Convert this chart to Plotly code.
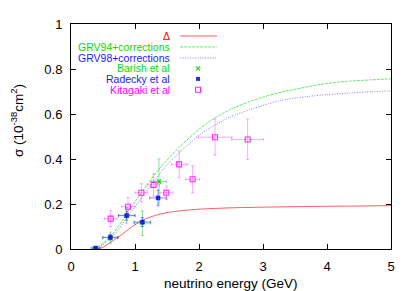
import plotly.graph_objects as go

# Curves
delta_x = [0.42, 0.5, 0.6, 0.7, 0.8, 0.9, 1.0, 1.1, 1.2, 1.35, 1.5, 1.75, 2.0, 2.5, 3.0, 3.5, 4.0, 4.5, 5.0]
delta_y = [0.0, 0.008, 0.026, 0.045, 0.066, 0.088, 0.108, 0.125, 0.138, 0.152, 0.162, 0.171, 0.177, 0.183, 0.186, 0.188, 0.19, 0.191, 0.193]

grv94_x = [0.36, 0.5, 0.64, 0.8, 0.9, 1.0, 1.2, 1.375, 1.5, 1.7, 2.0, 2.25, 2.5, 2.8, 3.0, 3.3, 3.5, 3.85, 4.0, 4.35, 4.7, 5.0]
grv94_y = [0.0, 0.025, 0.062, 0.125, 0.168, 0.21, 0.29, 0.355, 0.395, 0.455, 0.532, 0.583, 0.622, 0.656, 0.675, 0.698, 0.71, 0.729, 0.736, 0.746, 0.752, 0.756]

grv98_x = [0.40, 0.55, 0.69, 0.85, 0.95, 1.08, 1.2, 1.39, 1.55, 1.75, 2.0, 2.25, 2.5, 2.8, 3.0, 3.3, 3.7, 4.0, 4.35, 4.7, 5.0]
grv98_y = [0.0, 0.03, 0.068, 0.13, 0.168, 0.22, 0.265, 0.335, 0.388, 0.443, 0.505, 0.551, 0.588, 0.62, 0.638, 0.662, 0.678, 0.686, 0.693, 0.699, 0.703]

# Data points
barish_x = [0.385, 0.615, 0.87, 1.115, 1.375]
barish_y = [0.004, 0.05, 0.15, 0.115, 0.30]
barish_xerr = [0.05, 0.12, 0.13, 0.13, 0.12]
barish_yerr = [0.006, 0.025, 0.035, 0.055, 0.10]

radecky_x = [0.385, 0.615, 0.87, 1.115, 1.36]
radecky_y = [0.004, 0.052, 0.148, 0.12, 0.227]
radecky_xerr = [0.07, 0.12, 0.13, 0.13, 0.13]
radecky_yerr = [0.005, 0.012, 0.02, 0.02, 0.035]

kitagaki_x = [0.62, 0.89, 1.10, 1.29, 1.49, 1.69, 1.90, 2.25, 2.76]
kitagaki_y = [0.135, 0.188, 0.25, 0.285, 0.25, 0.376, 0.31, 0.497, 0.487]
kitagaki_xerr = [0.1, 0.1, 0.1, 0.09, 0.1, 0.12, 0.11, 0.265, 0.25]
kitagaki_yerr = [0.035, 0.04, 0.04, 0.05, 0.03, 0.06, 0.06, 0.08, 0.09]

x_ticks = [0, 1, 2, 3, 4, 5]
y_ticks = [0, 0.2, 0.4, 0.6, 0.8, 1]
y_tick_labels = ["0", "0.2", "0.4", "0.6", "0.8", "1"]

legend_names = ["Δ", "GRV94+corrections", "GRV98+corrections", "Barish et al", "Radecky et al", "Kitagaki et al"]
legend_text_colors = ["#ff0000", "#00e000", "#1a1aff", "#00e000", "#1a1aff", "#ff00ff"]

RED = "rgba(255,40,40,0.75)"
GREEN = "rgba(0,220,0,0.6)"
BLUE = "rgba(40,40,255,0.6)"
MAG = "rgba(255,0,255,0.85)"
GREEN_E = "rgba(0,200,0,0.45)"
BLUE_E = "rgba(0,0,255,0.45)"
MAG_E = "rgba(255,0,255,0.35)"
GREEN_M = "rgba(0,210,0,0.9)"
BLUE_M = "rgba(20,20,230,0.9)"

fig = go.Figure()

fig.add_trace(go.Scatter(x=delta_x, y=delta_y, mode="lines", line=dict(color=RED, width=1, shape="spline", smoothing=0.6), showlegend=False))
fig.add_trace(go.Scatter(x=grv94_x, y=grv94_y, mode="lines", line=dict(color=GREEN, width=1, dash="3px,1px", shape="spline", smoothing=0.6), showlegend=False))
fig.add_trace(go.Scatter(x=grv98_x, y=grv98_y, mode="lines", line=dict(color=BLUE, width=1, dash="1px,1.5px", shape="spline", smoothing=0.6), showlegend=False))

fig.add_trace(go.Scatter(
    x=barish_x, y=barish_y, mode="markers",
    marker=dict(symbol="x-thin-open", size=4, color=GREEN_M, line=dict(color=GREEN_M, width=1.2)),
    error_x=dict(type="data", array=barish_xerr, color=GREEN_E, thickness=1, width=1.5),
    error_y=dict(type="data", array=barish_yerr, color=GREEN_E, thickness=1, width=1.5),
    showlegend=False))
fig.add_trace(go.Scatter(
    x=radecky_x, y=radecky_y, mode="markers",
    marker=dict(symbol="square", size=4, color=BLUE_M, line=dict(color=BLUE_M, width=0.5)),
    error_x=dict(type="data", array=radecky_xerr, color=BLUE_E, thickness=1, width=1.5),
    error_y=dict(type="data", array=radecky_yerr, color=BLUE_E, thickness=1, width=1.5),
    showlegend=False))
fig.add_trace(go.Scatter(
    x=kitagaki_x, y=kitagaki_y, mode="markers",
    marker=dict(symbol="square-open", size=5, color=MAG, line=dict(color=MAG, width=1.1)),
    error_x=dict(type="data", array=kitagaki_xerr, color=MAG_E, thickness=1, width=1.5),
    error_y=dict(type="data", array=kitagaki_yerr, color=MAG_E, thickness=1, width=1.5),
    showlegend=False))

# Legend (manual, gnuplot style: right-aligned text, sample at right)
leg_y = [0.947, 0.898, 0.849, 0.803, 0.756, 0.708]
text_x = 0.3125
s0, s1 = 0.341, 0.456
smid = 0.397
line_styles = [(RED, None), (GREEN, "3px,1px"), (BLUE, "1px,1.5px")]
annotations = []
for i, name in enumerate(legend_names):
    annotations.append(dict(x=text_x, y=leg_y[i], xref="paper", yref="paper", text=name,
                            showarrow=False, xanchor="right", yanchor="middle", borderpad=0,
                            font=dict(size=10.5, color=legend_text_colors[i], family="Liberation Sans, Arial, sans-serif")))
for i, (c, d) in enumerate(line_styles):
    fig.add_trace(go.Scatter(x=[s0, s1], y=[leg_y[i], leg_y[i]], xaxis="x2", yaxis="y2", mode="lines",
                             line=dict(color=c, width=1, dash=d), showlegend=False, hoverinfo="skip"))
fig.add_trace(go.Scatter(x=[smid], y=[leg_y[3]], xaxis="x2", yaxis="y2", mode="markers",
                         marker=dict(symbol="x-thin-open", size=4, color=GREEN_M, line=dict(color=GREEN_M, width=1.2)), showlegend=False))
fig.add_trace(go.Scatter(x=[smid], y=[leg_y[4]], xaxis="x2", yaxis="y2", mode="markers",
                         marker=dict(symbol="square", size=4, color=BLUE_M), showlegend=False))
fig.add_trace(go.Scatter(x=[smid], y=[leg_y[5]], xaxis="x2", yaxis="y2", mode="markers",
                         marker=dict(symbol="square-open", size=5, color=MAG, line=dict(color=MAG, width=1.1)), showlegend=False))

annotations.append(dict(x=0.5, y=-0.152, xref="paper", yref="paper", text="neutrino energy (GeV)",
                        showarrow=False, xanchor="center", yanchor="middle", borderpad=0,
                        font=dict(size=13.5, color="black")))
annotations.append(dict(x=-0.168, y=0.57, xref="paper", yref="paper",
                        text="σ (10<sup>-38</sup>cm<sup>2</sup>)", textangle=-90,
                        showarrow=False, xanchor="center", yanchor="middle", borderpad=0,
                        font=dict(size=13.5, color="black")))

axis_common = dict(showline=True, linecolor="black", linewidth=1, mirror="ticks", ticks="inside",
                   ticklen=5, tickcolor="black", showgrid=False, zeroline=False,
                   tickfont=dict(size=13, color="black"), ticklabelstandoff=5)

# page body has an 8px margin, so the figure is offset by (8, 8)
fig.update_layout(
    width=407, height=283,
    margin=dict(l=63, r=24, t=9, b=42),
    paper_bgcolor="white", plot_bgcolor="white",
    font=dict(family="Liberation Sans, Arial, Helvetica, sans-serif", color="black"),
    xaxis=dict(range=[0, 5], tickvals=x_ticks, ticktext=[str(v) for v in x_ticks], **axis_common),
    yaxis=dict(range=[0, 1], tickvals=y_ticks, ticktext=y_tick_labels, **axis_common),
    xaxis2=dict(range=[0, 1], overlaying="x", visible=False, fixedrange=True),
    yaxis2=dict(range=[0, 1], overlaying="y", visible=False, fixedrange=True),
    annotations=annotations,
    showlegend=False,
)

fig.write_html("out.html")
